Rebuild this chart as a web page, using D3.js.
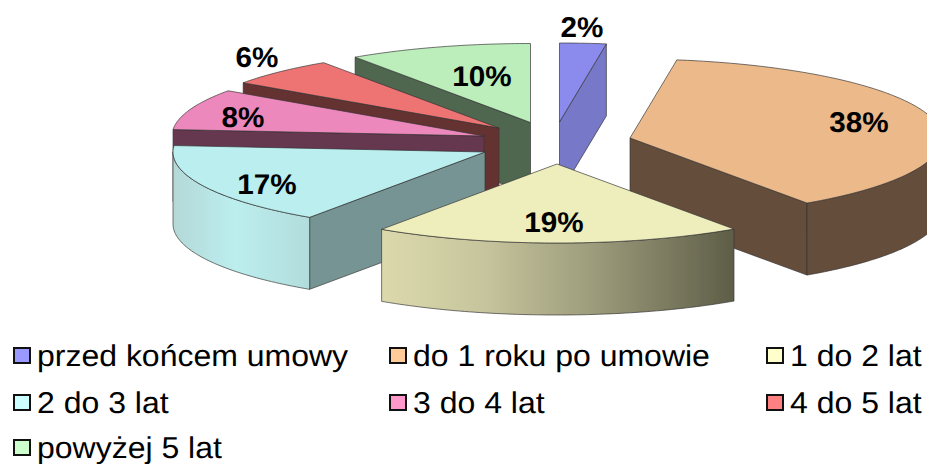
<!DOCTYPE html>
<html><head><meta charset="utf-8">
<script src="https://cdn.jsdelivr.net/npm/d3@7"></script>
<style>html,body{margin:0;padding:0;background:#fff;overflow:hidden}svg{display:block}text{font-family:"Liberation Sans",Arial,sans-serif;text-rendering:geometricPrecision}</style>
</head><body><svg id="c" width="927" height="464"></svg>
<script>
const categories=["przed końcem umowy","do 1 roku po umowie","1 do 2 lat","2 do 3 lat","3 do 4 lat","4 do 5 lat","powyżej 5 lat"];
const values=[2.4,38,19.1,16.8,8.4,5.8,9.5];
const valueLabels=["2%","38%","19%","17%","8%","6%","10%"];
const legendColors=["#9999ff","#ffcc99","#ffffcc","#ccffff","#ff99cc","#ff8080","#ccffcc"];
const topColors=["#8b8bee","#ebb98a","#eeeebd","#bbeeee","#ec88bb","#ee7373","#bbeebb"];
const wallColors=["#7878c8","#654d3a","url(#g19)","url(#g17)","#653750","#653030","#506650"];
const edgeColors=["#7878c8","#654d3a","#8a8a6c","#769494","#653750","#653030","#506650"];
// layout
const apexX=[559.5,630,557,485,484,499,530.5];
const apexY=[122,138,164,152,136,128,122.5];
const labelX=[582,859,554,267,243,257,482];
const labelY=[27,122,222,184,117,57,76];
const drawOrder=[0,6,5,4,1,3,2];
const Rx=312,Ry=79,H=72;

const svg=d3.select("#c");
const defs=svg.append("defs");
function grad(id,x1,x2,stops){
  const g=defs.append("linearGradient").attr("id",id).attr("gradientUnits","userSpaceOnUse")
    .attr("x1",x1).attr("x2",x2).attr("y1",0).attr("y2",0);
  stops.forEach(s=>g.append("stop").attr("offset",s[0]).attr("stop-color",s[1]));
}
grad("g19",380,733,[[0,"#dcdaac"],[.3,"#c6c49c"],[.6,"#9d9c7c"],[1,"#5e5e48"]]);
grad("g17",174,310,[[0,"#b4d8d8"],[.45,"#bceeee"],[1,"#b2dcdc"]]);
defs.append("filter").attr("id","soft").append("feGaussianBlur").attr("stdDeviation",.45);

const pie=d3.pie().sort(null).value(d=>d);
const arcs=pie(values);
const line=d3.line();
const deg=Math.PI/180;
function pt(i,a,dy=0){return [apexX[i]+Rx*Math.sin(a),apexY[i]-Ry*Math.cos(a)+dy];}
function arcPts(i,a0,a1,dy=0){
  const n=Math.max(2,Math.ceil((a1-a0)/deg));
  return d3.range(n+1).map(k=>pt(i,a0+(a1-a0)*k/n,dy));
}
const stroke="rgba(50,50,50,.75)";
const root=svg.append("g").attr("filter","url(#soft)");
drawOrder.forEach(i=>{
  const {startAngle:a0,endAngle:a1}=arcs[i];
  const g=root.append("g");
  const ap=[apexX[i],apexY[i]];
  const face=(pts,fill)=>g.append("path").attr("d",line(pts)+"Z").attr("fill",fill)
    .attr("stroke",stroke).attr("stroke-width",.9).attr("stroke-linejoin","round");
  const sideWall=a=>{const p=pt(i,a);
    face([ap,p,[p[0],p[1]+H],[ap[0],ap[1]+H]],edgeColors[i]);};
  if(a1<Math.PI) sideWall(a1);
  if(a0>Math.PI) sideWall(a0);
  const w0=Math.max(a0,Math.PI/2),w1=Math.min(a1,Math.PI*1.5);
  if(w1>w0){
    const up=arcPts(i,w0,w1),down=arcPts(i,w0,w1,H).reverse();
    face(up.concat(down),wallColors[i]);
  }
  face([ap].concat(arcPts(i,a0,a1)),topColors[i]);
});

svg.append("g").selectAll("text").data(valueLabels).join("text")
  .attr("transform",(d,i)=>`translate(${labelX[i]},${labelY[i]+10}) scale(1.04,1)`)
  .attr("text-anchor","middle").attr("font-weight","bold").attr("font-size",28.5).attr("fill","#000").text(d=>d);

const colX=[13,389,766],rowY=[366,413,458];
const leg=svg.append("g").selectAll("g").data(categories).join("g")
  .attr("transform",(d,i)=>`translate(${colX[i%3]},${rowY[Math.floor(i/3)]})`);
leg.append("rect").attr("x",1).attr("y",-18).attr("width",16).attr("height",15)
  .attr("fill",(d,i)=>legendColors[i]).attr("stroke","#111").attr("stroke-width",2);
leg.append("text").attr("transform","translate(24,0) scale(1.066,1)").attr("font-size",30).attr("fill","#000").text(d=>d);
</script></body></html>
